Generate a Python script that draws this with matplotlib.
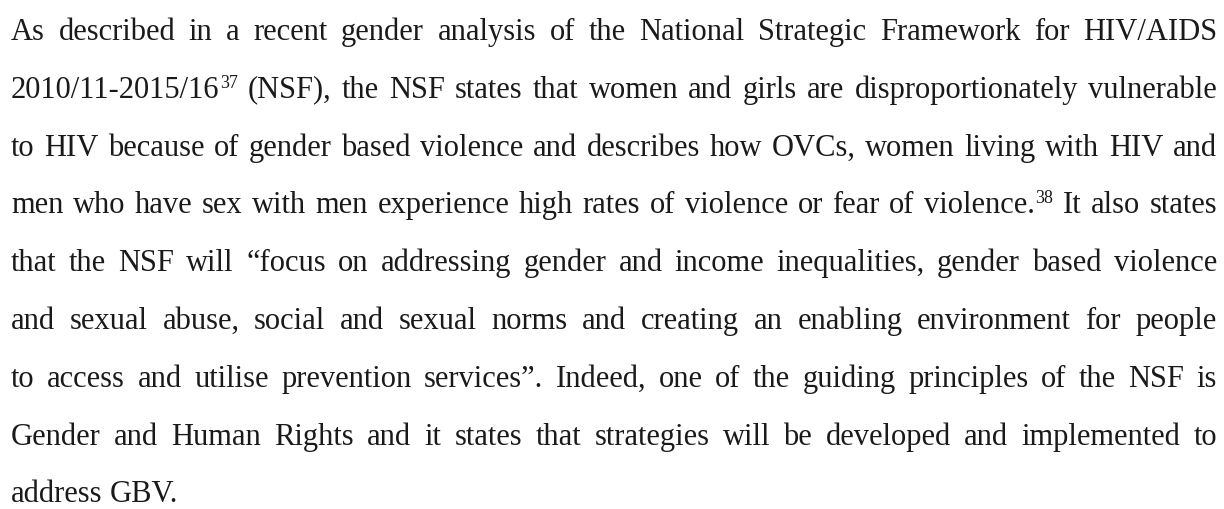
import matplotlib
matplotlib.use('Agg')
import matplotlib.pyplot as plt
from matplotlib import font_manager
from matplotlib.font_manager import FontProperties
from matplotlib.backends.backend_agg import get_hinting_flag

# paragraph lines as laid out in the reference; "^" marks a footnote superscript
lines = [
    "As described in a recent gender analysis of the National Strategic Framework for HIV/AIDS",
    "2010/11-2015/16^37 (NSF), the NSF states that women and girls are disproportionately vulnerable",
    "to HIV because of gender based violence and describes how OVCs, women living with HIV and",
    "men who have sex with men experience high rates of violence or fear of violence.^38 It also states",
    "that the NSF will \u201cfocus on addressing gender and income inequalities, gender based violence",
    "and sexual abuse, social and sexual norms and creating an enabling environment for people",
    "to access and utilise prevention services\u201d. Indeed, one of the guiding principles of the NSF is",
    "Gender and Human Rights and it states that strategies will be developed and implemented to",
    "address GBV.",
]

W, H = 1224, 510
left, right = 11, 1217
first_baseline = 40
line_step = 57.8
fsize = 22
sup_size = 13
sup_rise = 10
color = '#1a1a1a'
font = 'Liberation Serif'

fig = plt.figure(figsize=(W / 100, H / 100), dpi=100)
fig.patch.set_facecolor('white')
renderer = fig.canvas.get_renderer()
ft = font_manager.get_font(font_manager.findfont(FontProperties(family=font)))


def measure(s, size):
    t = fig.text(0, 0, s, fontsize=size, family=font)
    w = t.get_window_extent(renderer).width
    t.remove()
    return w


def snapped_baseline(s, size, row):
    # agg places each word's bitmap from its own bbox, which makes words with
    # descenders/ascenders drift by a pixel or two; undo that so every word on
    # a line sits on the same pixel row
    ft.clear()
    ft.set_size(size, 100)
    ft.set_text(s, 0.0, flags=get_hinting_flag())
    _, h = ft.get_width_height()
    d = ft.get_descent()
    return row + h // 64 - (h - d) // 64 - d / 64


def put(x, row, s, size):
    b = snapped_baseline(s, size, row)
    fig.text(x / W, 1 - b / H, s, fontsize=size, family=font, color=color,
             ha='left', va='baseline')


for i, line in enumerate(lines):
    words = []
    for tok in line.split(' '):
        if '^' in tok:
            base, sup = tok.split('^')
        else:
            base, sup = tok, ''
        wb = measure(base, fsize)
        ws = measure(sup, sup_size) if sup else 0
        words.append((base, sup, wb, ws))
    total = sum(w[2] + w[3] for w in words)
    last = i == len(lines) - 1
    if last or len(words) == 1:
        gap = measure('a a', fsize) - 2 * measure('a', fsize)
    else:
        gap = (right - left - total) / (len(words) - 1)
    row = round(first_baseline + i * line_step)
    x = left
    for base, sup, wb, ws in words:
        put(x, row, base, fsize)
        if sup:
            put(x + wb + 0.5, row - sup_rise, sup, sup_size)
        x += wb + ws + gap

fig.savefig('out.png', dpi=100, facecolor='white')
